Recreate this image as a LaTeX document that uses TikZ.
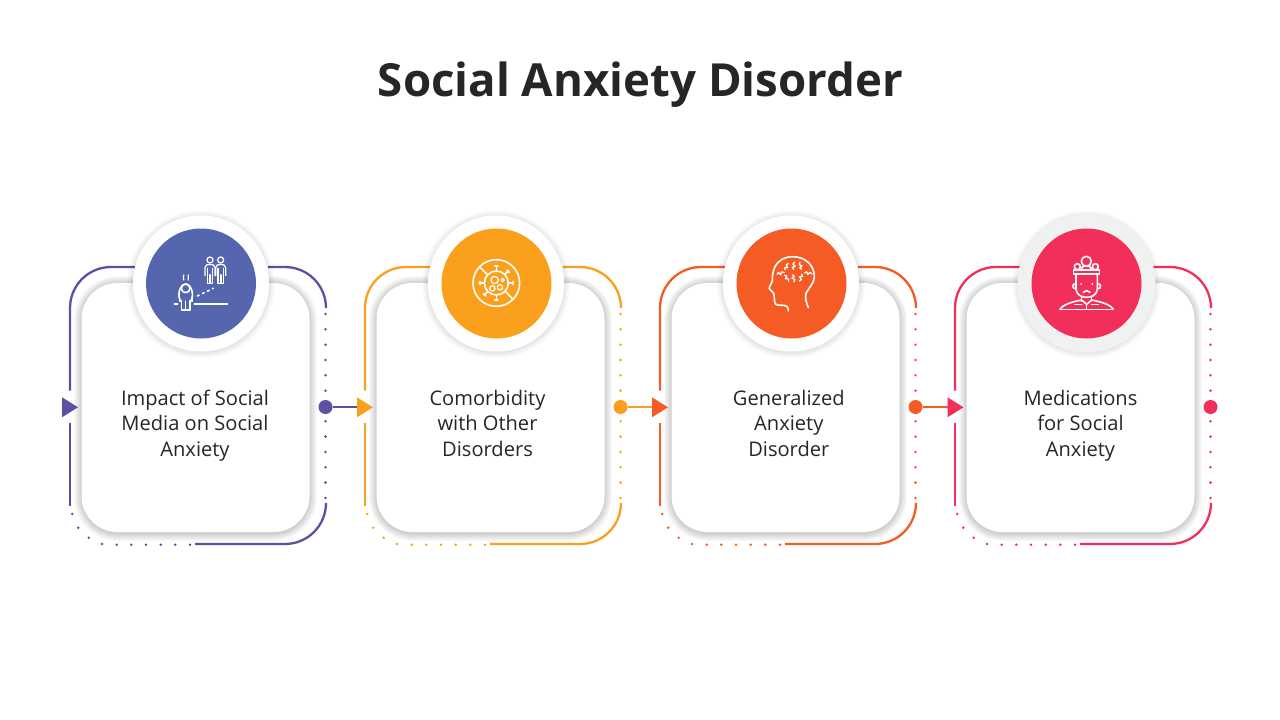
\documentclass[tikz,border=0pt]{standalone}
\usepackage{fontspec}
\setmainfont{Open Sans}
\usetikzlibrary{calc}
\definecolor{cA}{HTML}{5F4FA3}
\definecolor{cAdisc}{HTML}{5566AE}
\definecolor{cB}{HTML}{FBA01C}
\definecolor{cC}{HTML}{F55B24}
\definecolor{cD}{HTML}{F22F5B}
\definecolor{ink}{HTML}{262626}
\definecolor{ringgrey}{HTML}{F0F1F1}
\definecolor{endA}{HTML}{8E3F5A}
\tikzset{
  every picture/.style={x=1pt,y=-1pt},
  rim/.style={line width=2.3pt,rounded corners=41pt},
  carditem/.style={draw=none,fill=white,rounded corners=36pt,minimum width=228pt,minimum height=249pt,inner sep=0pt,outer sep=0pt,anchor=center},
  lbl/.style={font=\fontsize{20.1pt}{25.5pt}\selectfont,text=ink,align=center,inner sep=0pt,anchor=center},
  ttl/.style={font=\fontsize{45.6pt}{54pt}\selectfont\bfseries,text=ink,inner sep=0pt,anchor=center},
  disc/.style={circle,inner sep=0pt,outer sep=0pt,minimum size=110pt},
  ring/.style={circle,inner sep=0pt,outer sep=0pt,minimum size=136pt,fill=white},
  junction/.style={circle,inner sep=0pt,outer sep=0pt,minimum size=14pt},
  ic/.style={draw=white,line width=1.6pt,line cap=round,line join=round,fill=none},
  icthin/.style={ic,line width=1.25pt},
  tiny/.style={x=0.33333pt,y=-0.33333pt},
}
\newcommand{\unitset}[3]{% offset, colour, end-dot colour
  \begin{scope}[shift={(#1,0)}]
    \draw[rim,#2] (135,267) -- (70,267) -- (70,390.5);
    \draw[#2,line width=2.3pt] (70,423) -- (70,506);
    \draw[rim,#2] (268,267) -- (326,267) -- (326,308);
    \draw[rim,#2] (326,504) -- (326,544) -- (195,544);
    \foreach \dy in {1,...,11}{
      \ifnum\dy=6 \else \fill[#2] (325.5,{314+15.33*\dy}) circle[radius=1.4]; \fi
    }
    \fill[#3] (325.5,314) circle[radius=1.4];
    \fill[#3] (325.5,498) circle[radius=1.4];
    \foreach \px/\py in {72.3/514,78.3/527.7,88.7/537.7,102/544,116.7/544.7,131.3/544.7,146/544.7,160.7/544.7,175.3/544.7,190/544.7}{
      \fill[#2] (\px,\py) circle[radius=1.4];
    }
    \foreach \g in {1,...,8}{
      \fill[black,opacity=0.024,rounded corners={36+\g}] ({82-\g},{283-\g+1}) rectangle ({309+\g},{532+\g+1});
    }
  \end{scope}
}
\newcommand{\ringshadow}[2]{%
  \foreach \g in {1,...,6}{
    \fill[black,opacity=0.016] (#1,{#2+1}) circle[radius={68+\g}];
  }
}
\newcommand{\tritip}[2]{\fill[#2] (#1) -- ++(16,10) -- ++(-16,10) -- cycle;}
\begin{document}
\begin{tikzpicture}
\useasboundingbox (0,0) rectangle (1280,720);
\fill[white] (0,0) rectangle (1280,720);
\node[ttl] (title) at (640.5,86) {\strut Social Anxiety Disorder};

\unitset{0}{cA}{endA}
\unitset{295}{cB}{cB}
\unitset{590}{cC}{cC}
\unitset{885}{cD}{cD}

\node[carditem] (cardA) at (195.5,407.5) {};
\node[carditem] (cardB) at (490.5,407.5) {};
\node[carditem] (cardC) at (785.5,407.5) {};
\node[carditem] (cardD) at (1080.5,407.5) {};

\node[lbl] (textA) at (195,425.5) {\strut Impact of Social\\\strut Media on Social\\\strut Anxiety};
\node[lbl] (textB) at (487.5,425.5) {\strut Comorbidity\\\strut with Other\\\strut Disorders};
\node[lbl] (textC) at (788.8,425.5) {\strut Generalized\\\strut Anxiety\\\strut Disorder};
\node[lbl] (textD) at (1080.5,425.5) {\strut Medications\\\strut for Social\\\strut Anxiety};

\ringshadow{201}{283.5}
\ringshadow{496}{283.5}
\ringshadow{791}{283.5}
\ringshadow{1086.5}{283.5}
\node[ring] (ringA) at (201,283.5) {};
\node[ring] (ringB) at (496,283.5) {};
\node[ring] (ringC) at (791,283.5) {};
\node[ring,fill=ringgrey,minimum size=138pt] (ringD) at (1086.5,283.5) {};
\node[disc,fill=cAdisc] (discA) at (201,283.5) {};
\node[disc,fill=cB] (discB) at (496.5,283.5) {};
\node[disc,fill=cC] (discC) at (791.5,283.5) {};
\node[disc,fill=cD] (discD) at (1086.5,283.5) {};

\node[junction,fill=cA] (jA) at (325.5,407) {};
\node[junction,fill=cB] (jB) at (620.5,407) {};
\node[junction,fill=cC] (jC) at (915.5,407) {};
\node[junction,fill=cD] (jD) at (1210.5,407) {};
\coordinate (tA) at (62,397.3);
\coordinate (tB) at (357,397.3);
\coordinate (tC) at (652,397.3);
\coordinate (tD) at (947.5,397.3);
\coordinate (eB) at (357,407);
\coordinate (eC) at (652,407);
\coordinate (eD) at (947.5,407);
\draw[cA,line width=2pt] (jA) -- (eB);
\draw[cB,line width=2pt] (jB) -- (eC);
\draw[cC,line width=2pt] (jC) -- (eD);
\tritip{tA}{cA}
\tritip{tB}{cB}
\tritip{tC}{cC}
\tritip{tD}{cD}

% icon A
\begin{scope}[shift={(140,225)},tiny]
  \foreach \hx in {210,242}{
    \draw[icthin] (\hx,105) circle[radius=9];
    \draw[icthin] ({\hx-15},152) -- ({\hx-15},128) .. controls ({\hx-15},120) and ({\hx-8},118) .. (\hx,118) .. controls ({\hx+8},118) and ({\hx+15},120) .. ({\hx+15},128) -- ({\hx+15},152);
    \draw[icthin] ({\hx-8},130) -- ({\hx-8},175) -- ({\hx-1},175) -- ({\hx-1},150) -- ({\hx+1},150) -- ({\hx+1},175) -- ({\hx+8},175) -- ({\hx+8},130);
  }
  \draw[ic] (137,190) circle[radius=13];
  \draw[ic] (122,228) .. controls (112,215) and (116,180) .. (137,177) .. controls (158,180) and (162,215) .. (152,228);
  \draw[ic] (118,205) -- (118,228) -- (125,228) -- (125,255) -- (150,255) -- (150,228) -- (157,228) -- (157,205);
  \draw[icthin] (137,228) -- (137,255);
  \draw[ic] (163,237) -- (262,237);
  \draw[ic] (103,237) -- (113,237);
  \draw[ic,dash pattern=on 2pt off 3.6pt] (172,213) -- (220,190);
  \draw[icthin] (131,150) .. controls (126,155) and (135,158) .. (131,165);
  \draw[icthin] (145,150) .. controls (140,155) and (149,158) .. (145,165);
\end{scope}

% icon B
\begin{scope}[shift={(435,225)},tiny]
  \draw[ic] (184,174) circle[radius=70];
  \draw[ic] (184,174) circle[radius=36];
  \foreach \an in {0,45,90,135,180,225,270,315}{
    \ifnum\an=45 \else\ifnum\an=225 \else
    \draw[ic] ($(184,174)+(\an:36)$) -- ($(184,174)+(\an:52)$);
    \draw[ic,line width=1.9pt] ($(184,174)+(\an-5:50)$) -- ($(184,174)+(\an+5:50)$);
    \fi\fi
  }
  \draw[ic] (135,127) -- (158,150);
  \draw[ic] (210,198) -- (234,223);
  \draw[icthin] (179,165) circle[radius=11];
  \draw[icthin] (203,165) circle[radius=5];
  \draw[icthin] (172,190) circle[radius=8];
  \draw[icthin] (195,187) circle[radius=8];
\end{scope}

% icon C
\begin{scope}[shift={(730,225)},tiny]
  \draw[ic] (175,258) .. controls (175,248) and (172,243) .. (162,241) .. controls (150,240) and (136,243) .. (134,232) .. controls (133,220) and (133,212) .. (131,205) -- (117,190) -- (127,168) .. controls (127,150) and (128,140) .. (135,125) .. controls (145,105) and (165,95) .. (188,95) .. controls (225,95) and (253,120) .. (253,155) .. controls (253,175) and (235,190) .. (228,205) .. controls (224,220) and (230,235) .. (235,248);
  \foreach \sx/\sy/\sa in {170/125/60,192/122/80,212/122/100,235/145/-10,152/145/10,170/160/-60,190/160/-80,212/158/-110}{
    \begin{scope}[shift={(\sx,\sy)},rotate=\sa]
      \draw[icthin] (-11,1) -- (-6,-4) -- (-1,4) -- (4,-4) -- (11,0);
    \end{scope}
  }
\end{scope}

% icon D
\begin{scope}[shift={(1015,210)},tiny]
  \draw[ic] (214,154) circle[radius=15];
  \draw[ic] (187,170) circle[radius=9];
  \draw[ic] (241,170) circle[radius=9];
  \draw[ic] (176,180) rectangle (254,192);
  \draw[ic] (198,180) .. controls (200,170) and (208,167) .. (214,167) .. controls (220,167) and (228,170) .. (230,180);
  \draw[ic] (183,195) -- (183,238) .. controls (185,255) and (200,262) .. (215,262) .. controls (230,262) and (245,255) .. (247,238) -- (247,195);
  \draw[ic] (183,222) .. controls (170,218) and (170,238) .. (183,236);
  \draw[ic] (247,222) .. controls (260,218) and (260,238) .. (247,236);
  \fill[white] (198,222) circle[radius=3];
  \fill[white] (232,222) circle[radius=3];
  \draw[ic] (205,247) .. controls (210,240) and (220,240) .. (225,247);
  \draw[ic] (200,260) -- (200,273);
  \draw[ic] (230,260) -- (230,273);
  \draw[ic] (135,298) -- (295,298);
  \draw[ic] (135,298) .. controls (145,282) and (175,275) .. (200,270) -- (215,283) -- (230,270) .. controls (255,275) and (285,282) .. (295,298);
  \draw[ic] (215,283) -- (215,297);
  \draw[ic] (180,283) -- (200,283);
  \draw[ic] (230,283) -- (250,283);
\end{scope}
\end{tikzpicture}
\end{document}
